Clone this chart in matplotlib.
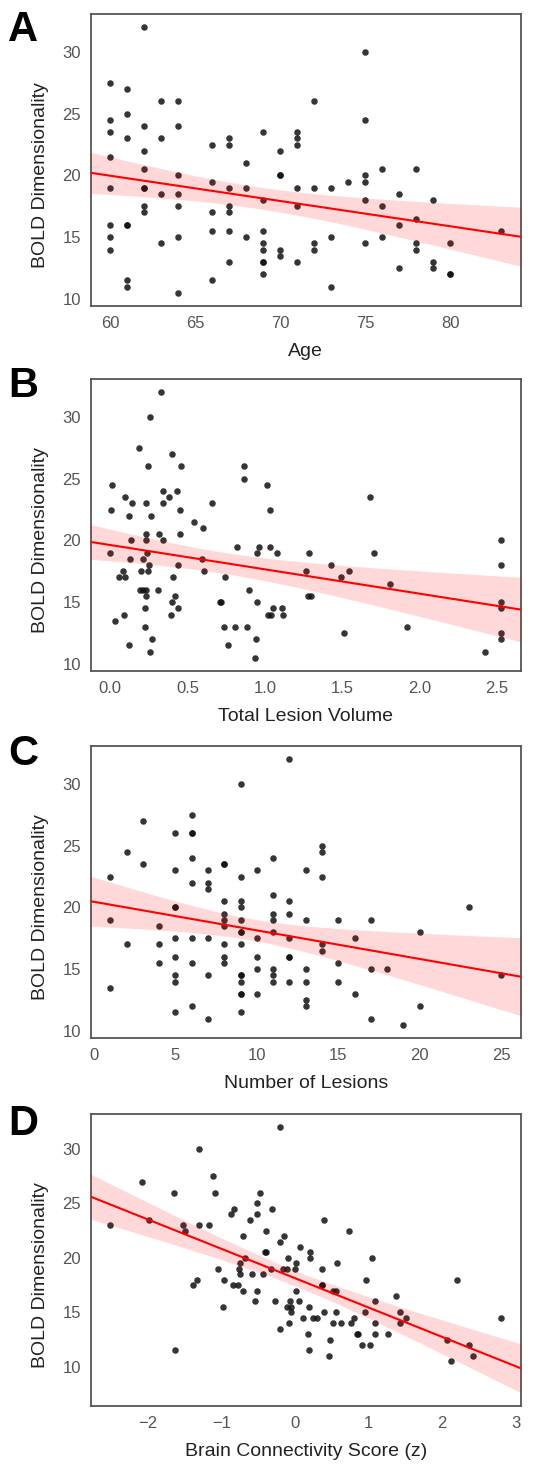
import matplotlib
matplotlib.use('Agg')
import matplotlib.pyplot as plt
import numpy as np

plt.rcParams['font.family'] = ['Liberation Sans', 'DejaVu Sans']

#~~~~~~~~~~~~~~~~~~~~~~~~~~~~~~
# values
#~~~~~~~~~~~~~~~~~~~~~~~~~~~~~~

# A: age vs BOLD dimensionality
age = [60, 60, 60, 60, 60, 60, 60, 60,
       61, 61, 61, 61, 61, 61, 61,
       62, 62, 62, 62, 62, 62, 62, 62,
       63, 63, 63, 63,
       64, 64, 64, 64, 64, 64, 64,
       66, 66, 66, 66, 66,
       67, 67, 67, 67, 67, 67, 67,
       68, 68, 68,
       69, 69, 69, 69, 69, 69, 69, 69,
       70, 70, 70, 70, 70,
       71, 71, 71, 71, 71, 71,
       72, 72, 72, 72,
       73, 73, 73,
       74,
       75, 75, 75, 75, 75, 75,
       76, 76, 76,
       77, 77, 77,
       78, 78, 78, 78,
       79, 79, 79,
       80, 80, 80,
       83]
age_bold = [27.5, 24.5, 23.5, 21.5, 19, 16, 15, 14,
            27, 25, 23, 16, 16, 11.5, 11,
            32, 24, 22, 20.5, 19, 19, 17.5, 17,
            26, 23, 18.5, 14.5,
            26, 24, 20, 18.5, 17.5, 15, 10.5,
            22.5, 19.5, 17, 15.5, 11.5,
            23, 22.5, 19, 17.5, 17, 15.5, 13,
            21, 19, 15,
            23.5, 18, 15.5, 14.5, 14, 13, 13, 12,
            22, 20, 20, 14, 13.5,
            23.5, 23, 22.5, 19, 17.5, 13,
            26, 19, 14.5, 14,
            19, 15, 11,
            19.5,
            30, 24.5, 20, 19.5, 18, 14.5,
            20.5, 17.5, 15,
            18.5, 16, 12.5,
            20.5, 16.5, 14.5, 14,
            18, 13, 12.5,
            14.5, 12, 12,
            15.5]

# B: total lesion volume vs BOLD dimensionality
lesion_volume = [0.329, 0.259, 0.188, 0.400, 0.246, 0.455, 0.012, 0.867, 0.863, 1.012,
                 0.342, 0.431, 0.093, 0.377, 0.139, 0.232, 0.344, 0.658, 0.006, 0.451,
                 1.035, 0.122, 0.261, 0.540, 0.602, 0.230, 0.313, 0.449, 0.135, 0.228,
                 0.342, 0.822, 0.963, 1.033, 0.000, 0.130, 0.213, 0.238, 0.948, 1.081,
                 0.594, 0.253, 0.435, 0.201, 0.242, 0.605, 0.081, 0.054, 0.097, 0.404,
                 0.745, 0.190, 0.211, 0.230, 0.308, 0.899, 0.228, 0.416, 0.402, 0.712,
                 0.716, 0.946, 0.224, 0.441, 1.054, 1.108, 1.017, 1.041, 1.118, 0.029,
                 0.087, 0.393, 0.224, 0.733, 0.807, 0.884, 0.271, 0.944, 0.124, 0.762,
                 0.255, 0.938, 1.263, 1.285, 1.280, 1.300, 1.428, 1.493, 1.514, 1.542,
                 1.683, 1.707, 1.807, 1.922, 2.424, 2.528, 2.528, 2.528, 2.528, 2.528,
                 2.528]
volume_bold = [32, 30, 27.5, 27, 26, 26, 24.5, 26, 25, 24.5,
               24, 24, 23.5, 23.5, 23, 23, 23, 23, 22.5, 22.5,
               22.5, 22, 22, 21.5, 21, 20.5, 20.5, 20.5, 20, 20,
               20, 19.5, 19.5, 19.5, 19, 18.5, 18.5, 19, 19, 19,
               18.5, 18, 18, 17.5, 17.5, 17.5, 17.5, 17, 17, 17,
               17, 16, 16, 16, 16, 16, 15.5, 15.5, 15, 15,
               15, 15, 14.5, 14.5, 14.5, 14.5, 14, 14, 14, 13.5,
               14, 14, 13, 13, 13, 13, 12, 12, 11.5, 11.5,
               11, 10.5, 17.5, 19, 15.5, 15.5, 18, 17, 12.5, 17.5,
               23.5, 19, 16.5, 13, 11, 20, 18, 15, 14.5, 12.5,
               12]

# C: number of lesions vs BOLD dimensionality
n_lesions = [1, 1, 1,
             2, 2,
             3, 3,
             4, 4, 4,
             5, 5, 5, 5, 5, 5, 5, 5, 5,
             6, 6, 6, 6, 6, 6, 6, 6,
             7, 7, 7, 7, 7, 7,
             8, 8, 8, 8, 8, 8, 8, 8, 8,
             9, 9, 9, 9, 9, 9, 9, 9, 9, 9, 9, 9, 9, 9,
             10, 10, 10, 10, 10,
             11, 11, 11, 11, 11, 11, 11, 11,
             12, 12, 12, 12, 12, 12, 12,
             13, 13, 13, 13, 13, 13,
             14, 14, 14, 14, 14,
             15, 15, 15,
             16, 16,
             17, 17, 17,
             18,
             19,
             20, 20,
             23,
             25]
lesions_bold = [22.5, 19, 13.5,
                24.5, 17,
                27, 23.5,
                18.5, 17, 15.5,
                26, 23, 20, 20, 17.5, 16, 14.5, 14, 11.5,
                27.5, 26, 26, 24, 22, 17.5, 15.5, 12,
                23, 22, 21.5, 17.5, 14.5, 11,
                23.5, 23.5, 20.5, 19.5, 19, 18.5, 17, 16, 15.5,
                30, 22.5, 20.5, 20, 19, 18, 18, 17, 14.5, 14.5, 14, 13, 13, 11.5,
                23, 17.5, 16, 15, 13,
                24, 21, 19.5, 19, 18, 15, 14.5, 14,
                32, 20.5, 19.5, 17.5, 16, 16, 14,
                23, 19, 15, 14, 12.5, 12,
                25, 24.5, 22.5, 17, 16.5,
                19, 15.5, 14,
                17.5, 13,
                19, 15, 11,
                15,
                10.5,
                18, 12,
                20,
                14.5]

# D: brain connectivity score (z) vs BOLD dimensionality
connectivity = [-2.51, -2.08, -1.98, -1.65, -1.63, -1.52, -1.49, -1.39, -1.33, -1.31,
                -1.31, -1.17, -1.11, -1.09, -1.04, -0.98, -0.96, -0.87, -0.83, -0.84,
                -0.78, -0.76, -0.75, -0.75, -0.71, -0.71, -0.68, -0.61, -0.58, -0.54,
                -0.52, -0.51, -0.51, -0.48, -0.44, -0.40, -0.40, -0.41, -0.32, -0.31,
                -0.27, -0.21, -0.20, -0.20, -0.15, -0.16, -0.11, -0.10, -0.11, -0.08,
                -0.07, -0.05, -0.05, 0.00, 0.01, 0.02, 0.06, 0.07, 0.11, 0.18,
                0.19, 0.19, 0.21, 0.21, 0.25, 0.30, 0.36, 0.36, 0.37, 0.39,
                0.40, 0.47, 0.46, 0.52, 0.52, 0.56, 0.56, 0.57, 0.63, 0.73,
                0.76, 0.80, 0.84, 0.85, 0.91, 0.95, 0.96, 1.02, 1.05, 1.09,
                1.09, 1.09, 1.26, 1.37, 1.42, 1.42, 1.51, 2.07, 2.12, 2.20,
                2.37, 2.42, 2.80]
connectivity_bold = [23, 27, 23.5, 26, 11.5, 23, 22.5, 17.5, 18, 30,
                     23, 23, 27.5, 26, 19, 15.5, 18, 24, 24.5, 17.5,
                     17.5, 19, 19.5, 18.5, 17, 22, 20, 23.5, 18.5, 16,
                     17, 25, 24, 26, 18.5, 22.5, 20.5, 20.5, 19, 24.5,
                     16, 32, 13.5, 21.5, 22, 19, 19, 20, 15.5, 14,
                     16, 15.5, 15, 19, 17, 19.5, 16, 21, 14.5, 13,
                     11.5, 15.5, 20.5, 20, 14.5, 14.5, 19, 17.5, 17.5, 23.5,
                     15, 12.5, 11, 14, 17, 17, 15, 19.5, 14, 22.5,
                     14, 14.5, 13, 13, 12, 15, 18, 12, 20, 16,
                     14, 13, 13, 16.5, 15, 14, 14.5, 12.5, 10.5, 18,
                     12, 11, 14.5]

panel_letters = ['A', 'B', 'C', 'D']
x_labels = ['Age', 'Total Lesion Volume', 'Number of Lesions', 'Brain Connectivity Score (z)']
x_ticks = [[60, 65, 70, 75, 80],
           [0.0, 0.5, 1.0, 1.5, 2.0, 2.5],
           [0, 5, 10, 15, 20, 25],
           [-2, -1, 0, 1, 2, 3]]
x_tick_labels = [['60', '65', '70', '75', '80'],
                 ['0.0', '0.5', '1.0', '1.5', '2.0', '2.5'],
                 ['0', '5', '10', '15', '20', '25'],
                 ['\u22122', '\u22121', '0', '1', '2', '3']]
y_ticks = [10, 15, 20, 25, 30]
y_label = 'BOLD Dimensionality'

xs = [age, lesion_volume, n_lesions, connectivity]
ys = [age_bold, volume_bold, lesions_bold, connectivity_bold]


def fit_line(x, y, grid):
    # ordinary least squares with a 95% confidence band for the mean
    x = np.asarray(x, float)
    y = np.asarray(y, float)
    slope, intercept = np.polyfit(x, y, 1)
    yhat = intercept + slope*grid
    n = len(x)
    resid = y - (intercept + slope*x)
    s = np.sqrt(np.sum(resid**2)/(n - 2))
    sxx = np.sum((x - x.mean())**2)
    se = s*np.sqrt(1.0/n + (grid - x.mean())**2/sxx)
    t = 1.984
    return yhat, yhat - t*se, yhat + t*se


W, H = 547, 1468
fig = plt.figure(figsize=(W/100.0, H/100.0), dpi=100)

# frame top edge of each panel, in pixels
panel_tops = [14, 379, 746, 1114]
panel_height = 292
ax_left, ax_right = 90.7, 520.7

for k in range(4):
    top = panel_tops[k]
    ax = fig.add_axes([ax_left/W, 1 - (top + panel_height)/H,
                       (ax_right - ax_left)/W, panel_height/H])
    ax.scatter(xs[k], ys[k], s=22, color='#111111', alpha=0.85,
               linewidths=0, zorder=2)

    xlim = ax.get_xlim()
    grid = np.linspace(xlim[0], xlim[1], 100)
    yhat, lo, hi = fit_line(xs[k], ys[k], grid)
    ax.fill_between(grid, lo, hi, color='red', alpha=0.15, linewidth=0, zorder=3)
    ax.plot(grid, yhat, color='red', lw=1.5, zorder=4)
    ax.set_xlim(xlim)

    ax.set_xticks(x_ticks[k])
    ax.set_xticklabels(x_tick_labels[k])
    ax.set_yticks(y_ticks)
    ax.tick_params(length=0, labelsize=12, labelcolor='#555555', pad=7)
    ax.set_xlabel(x_labels[k], fontsize=14, color='#222222', labelpad=9)
    ax.set_ylabel(y_label, fontsize=14, color='#222222')
    # label sits a little below the middle of the frame in the original
    ax.yaxis.set_label_coords(-0.097, 0.447)
    for sp in ax.spines.values():
        sp.set_color('#555555')
        sp.set_linewidth(1.3)

    # panel letter, baseline a bit below the frame top
    base = [41, 397, 765, 1135][k]
    fig.text(8.0/W, 1 - base/H, panel_letters[k], fontsize=30,
             fontweight='bold', va='baseline', ha='left', color='black')

fig.savefig('out.png', dpi=100)
